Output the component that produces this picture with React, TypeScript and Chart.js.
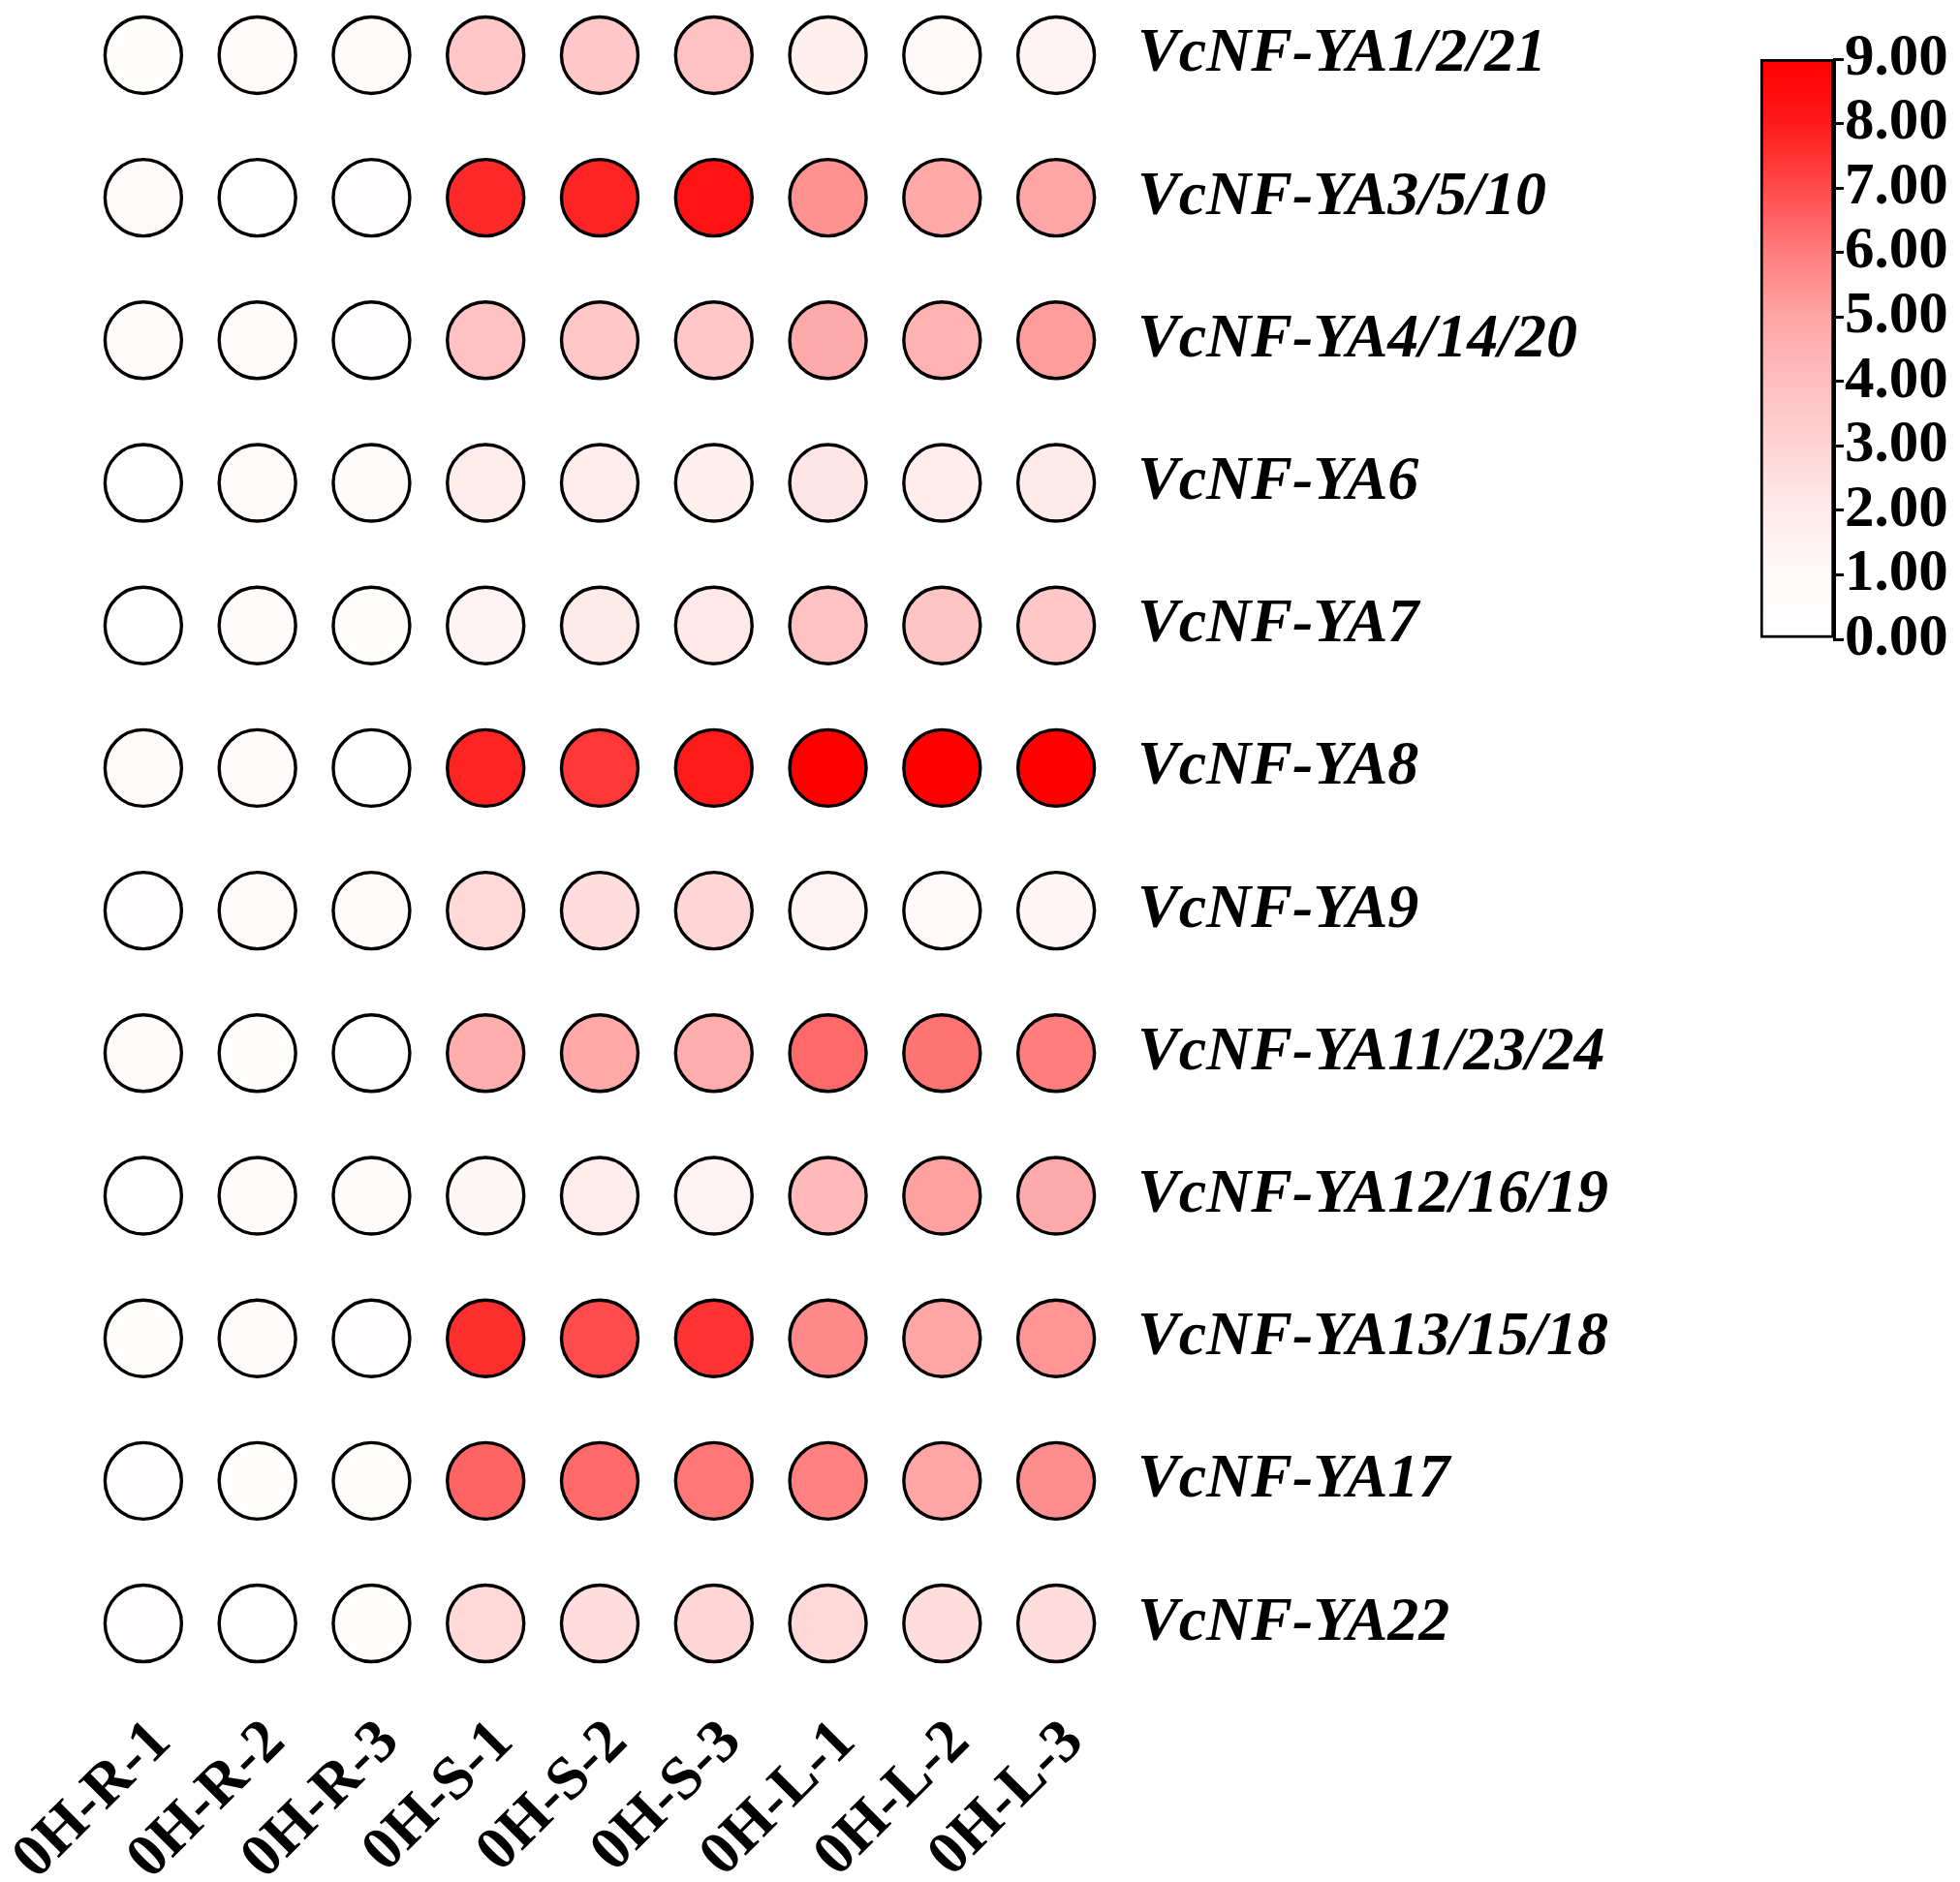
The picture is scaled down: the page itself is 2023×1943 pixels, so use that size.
import React, { useEffect, useRef } from 'react';
import { Chart, registerables } from 'chart.js';

Chart.register(...registerables);

const FONT = '"Liberation Serif", "Times New Roman", Times, serif';

const samples = ['0H-R-1', '0H-R-2', '0H-R-3', '0H-S-1', '0H-S-2', '0H-S-3', '0H-L-1', '0H-L-2', '0H-L-3'];

const genes = [
  'VcNF-YA1/2/21',
  'VcNF-YA3/5/10',
  'VcNF-YA4/14/20',
  'VcNF-YA6',
  'VcNF-YA7',
  'VcNF-YA8',
  'VcNF-YA9',
  'VcNF-YA11/23/24',
  'VcNF-YA12/16/19',
  'VcNF-YA13/15/18',
  'VcNF-YA17',
  'VcNF-YA22',
];

// expression values per gene, in sample order
const ya1_2_21 = [0.5, 0.6, 0.6, 3.6, 3.6, 3.8, 1.7, 1.0, 1.4];
const ya3_5_10 = [0.8, 0.2, 0.4, 7.7, 7.8, 8.3, 5.5, 4.9, 5.0];
const ya4_14_20 = [0.6, 0.6, 0.3, 3.8, 3.6, 3.6, 4.8, 4.5, 5.2];
const ya6 = [0.2, 0.6, 0.7, 1.9, 1.8, 1.6, 2.2, 1.8, 2.0];
const ya7 = [0.1, 0.7, 0.5, 1.4, 2.0, 2.1, 3.8, 3.7, 3.6];
const ya8 = [0.8, 0.6, 0.0, 7.8, 7.4, 8.0, 9.0, 9.0, 9.0];
const ya9 = [0.3, 0.6, 0.6, 2.8, 2.6, 2.9, 1.4, 1.0, 1.3];
const ya11_23_24 = [0.6, 0.5, 0.2, 4.7, 4.9, 4.7, 6.4, 6.2, 6.0];
const ya12_16_19 = [0.2, 0.6, 0.6, 1.2, 1.8, 1.5, 4.2, 5.1, 4.8];
const ya13_15_18 = [0.5, 0.6, 0.4, 7.6, 7.0, 7.5, 5.7, 5.0, 5.4];
const ya17 = [0.4, 0.5, 0.5, 6.5, 6.4, 6.1, 5.9, 5.0, 5.6];
const ya22 = [0.3, 0.2, 0.5, 2.8, 2.6, 2.9, 2.8, 2.6, 2.6];

const expression = [ya1_2_21, ya3_5_10, ya4_14_20, ya6, ya7, ya8, ya9, ya11_23_24, ya12_16_19, ya13_15_18, ya17, ya22];

const colorbarTicks = [0, 1, 2, 3, 4, 5, 6, 7, 8, 9];
const colorMin = 0;
const colorMax = 9;

// colour scale stops: [value, r, g, b]
const colorStops: [number, number, number, number][] = [
  [0, 255, 255, 255],
  [1, 255, 249, 249],
  [2, 255, 234, 234],
  [3, 255, 212, 212],
  [4, 255, 190, 190],
  [5, 255, 165, 165],
  [6, 255, 125, 125],
  [7, 255, 75, 75],
  [8, 255, 26, 26],
  [9, 255, 0, 0],
];

function valueColor(v: number): string {
  const c = Math.max(colorMin, Math.min(colorMax, v));
  for (let i = 0; i < colorStops.length - 1; i++) {
    const a = colorStops[i];
    const b = colorStops[i + 1];
    if (c >= a[0] && c <= b[0]) {
      const t = (c - a[0]) / (b[0] - a[0]);
      const r = Math.round(a[1] + (b[1] - a[1]) * t);
      const g = Math.round(a[2] + (b[2] - a[2]) * t);
      const bl = Math.round(a[3] + (b[3] - a[3]) * t);
      return `rgb(${r},${g},${bl})`;
    }
  }
  return 'rgb(255,0,0)';
}

export default function App() {
  const mainRef = useRef<HTMLCanvasElement | null>(null);
  const barRef = useRef<HTMLCanvasElement | null>(null);

  useEffect(() => {
    document.body.style.margin = '0';
    const points: { x: number; y: number }[] = [];
    const colors: string[] = [];
    expression.forEach((row, r) => {
      row.forEach((v, c) => {
        points.push({ x: c, y: r });
        colors.push(valueColor(v));
      });
    });

    const main = new Chart(mainRef.current as HTMLCanvasElement, {
      type: 'scatter',
      data: {
        datasets: [
          {
            data: points,
            pointRadius: 39.5,
            pointHoverRadius: 39.5,
            pointBackgroundColor: colors,
            pointBorderColor: '#000',
            pointBorderWidth: 3.4,
            pointHoverBorderWidth: 3.4,
            clip: false,
          },
        ],
      },
      options: {
        animation: false,
        responsive: false,
        events: [],
        plugins: { legend: { display: false }, tooltip: { enabled: false } },
        layout: { autoPadding: false, padding: { left: 89, top: 1, right: 0, bottom: 0 } },
        scales: {
          x: {
            type: 'linear',
            position: 'bottom',
            min: -0.5,
            max: 8.5,
            afterBuildTicks: (s: any) => {
              s.ticks = samples.map((_, i) => ({ value: i }));
            },
            afterFit: (s: any) => {
              s.height = 211;
              s.paddingLeft = 0;
              s.paddingRight = 0;
            },
            grid: { display: false, drawTicks: false },
            border: { display: false },
            ticks: {
              autoSkip: false,
              maxRotation: 45,
              minRotation: 45,
              padding: 30,
              labelOffset: 19,
              color: '#000',
              font: { family: FONT, size: 63, weight: 'bold' },
              callback: (v: any) => samples[Number(v)] ?? '',
            },
          },
          y: {
            type: 'linear',
            position: 'right',
            reverse: true,
            min: -0.38,
            max: 11.38,
            afterBuildTicks: (s: any) => {
              s.ticks = genes.map((_, i) => ({ value: i }));
            },
            afterFit: (s: any) => {
              s.width = 874;
              s.paddingTop = 0;
              s.paddingBottom = 0;
            },
            grid: { display: false, drawTicks: false },
            border: { display: false },
            ticks: {
              autoSkip: false,
              padding: 25,
              color: '#000',
              font: { family: FONT, size: 64, weight: 'bold', style: 'italic' },
              callback: (v: any) => genes[Number(v)] ?? '',
            },
          },
        },
      },
    } as any);

    const bar = new Chart(barRef.current as HTMLCanvasElement, {
      type: 'bar',
      data: {
        labels: ['scale'],
        datasets: [
          {
            data: [[colorMin, colorMax]],
            backgroundColor: (ctx: any) => {
              const chart = ctx.chart;
              const a = chart.chartArea;
              if (!a) return '#ff0000';
              const g = chart.ctx.createLinearGradient(0, a.bottom, 0, a.top);
              colorStops.forEach(([v, r, gg, b]) => g.addColorStop((v - colorMin) / (colorMax - colorMin), `rgb(${r},${gg},${b})`));
              return g;
            },
            borderColor: '#000',
            borderWidth: 3,
            borderSkipped: false,
            barPercentage: 1,
            categoryPercentage: 1,
          },
        ],
      },
      options: {
        animation: false,
        responsive: false,
        events: [],
        plugins: { legend: { display: false }, tooltip: { enabled: false } },
        layout: { autoPadding: false, padding: { left: 17, top: 61, right: 0, bottom: 60 } },
        scales: {
          x: { display: false },
          y: {
            position: 'right',
            min: colorMin,
            max: colorMax,
            afterBuildTicks: (s: any) => {
              s.ticks = colorbarTicks.map((v) => ({ value: v }));
            },
            afterFit: (s: any) => {
              s.width = 130;
              s.paddingTop = 0;
              s.paddingBottom = 0;
            },
            grid: { drawOnChartArea: false, drawTicks: true, tickLength: 10, color: '#000', lineWidth: 3 },
            border: { display: true, color: '#000', width: 3 },
            ticks: {
              autoSkip: false,
              padding: 1,
              color: '#000',
              font: { family: FONT, size: 61, weight: 'bold' },
              callback: (v: any) => Number(v).toFixed(2),
            },
          },
        },
      },
    } as any);

    return () => {
      main.destroy();
      bar.destroy();
    };
  }, []);

  return (
    <div style={{ position: 'absolute', left: 0, top: 0, width: 2023, height: 1943, background: '#fff' }}>
      <canvas ref={mainRef} width={2023} height={1943} style={{ position: 'absolute', left: 0, top: 0, display: 'block' }} />
      <canvas ref={barRef} width={223} height={720} style={{ position: 'absolute', left: 1800, top: 0, display: 'block' }} />
    </div>
  );
}
